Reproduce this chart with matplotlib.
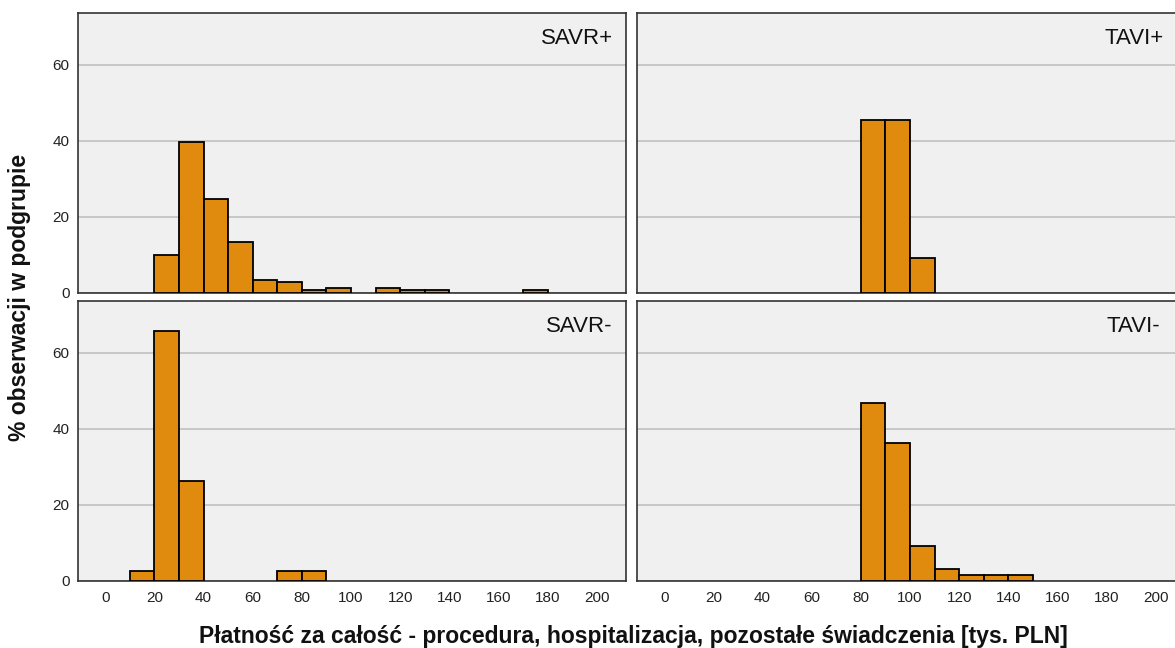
import matplotlib
matplotlib.use("Agg")
import matplotlib.pyplot as plt
import numpy as np

plt.rcParams['font.family'] = ['Liberation Sans', 'DejaVu Sans']

# bins of width 10 (tys. PLN), from 0 to 200
bin_edges = list(range(0, 210, 10))

# % observations per bin for each subgroup (20 bins: 0-10, 10-20, ..., 190-200)
savr_plus = [0, 0, 10.1, 39.7, 24.7, 13.5, 3.5, 2.8, 0.7, 1.4,
             0, 1.4, 0.7, 0.7, 0, 0, 0, 0.7, 0, 0]
tavi_plus = [0, 0, 0, 0, 0, 0, 0, 0, 45.5, 45.5,
             9.1, 0, 0, 0, 0, 0, 0, 0, 0, 0]
savr_minus = [0, 2.6, 65.8, 26.3, 0, 0, 0, 2.6, 2.6, 0,
              0, 0, 0, 0, 0, 0, 0, 0, 0, 0]
tavi_minus = [0, 0, 0, 0, 0, 0, 0, 0, 46.9, 36.4,
              9.2, 3.1, 1.6, 1.6, 1.6, 0, 0, 0, 0, 0]

panel_titles = ["SAVR+", "TAVI+", "SAVR-", "TAVI-"]
panel_data = [savr_plus, tavi_plus, savr_minus, tavi_minus]

x_ticks = list(range(0, 201, 20))
y_ticks = [0, 20, 40, 60]

W, H = 1175, 648
fig = plt.figure(figsize=(W / 100, H / 100), dpi=100)
fig.patch.set_facecolor("white")

def px_axes(x0, y0, x1, y1):
    return fig.add_axes([x0 / W, (H - y1) / H, (x1 - x0) / W, (y1 - y0) / H])

boxes = [(78, 13, 626, 293), (637, 13, 1185, 293),
         (78, 301, 626, 581), (637, 301, 1185, 581)]
label_x = [0.976, 0.962, 0.976, 0.955]

bar_color = "#e08b0e"
for i, (box, title, vals) in enumerate(zip(boxes, panel_titles, panel_data)):
    ax = px_axes(*box)
    ax.set_facecolor("#f0f0f0")
    ax.set_xlim(-11.1, 211.9)
    ax.set_ylim(0, 73.6)
    ax.set_axisbelow(True)
    ax.yaxis.grid(True, color="#c4c4c4", linewidth=1.3)
    ax.xaxis.grid(False)
    lefts = [bin_edges[k] for k, v in enumerate(vals) if v > 0]
    heights = [v for v in vals if v > 0]
    ax.bar(lefts, heights, width=10, align="edge", color=bar_color,
           edgecolor="black", linewidth=1.3, zorder=3)
    for sp in ax.spines.values():
        sp.set_color("#333333")
        sp.set_linewidth(1.2)
    ax.set_yticks(y_ticks)
    ax.set_xticks(x_ticks)
    ax.tick_params(length=0, labelsize=11, colors="#222222", pad=7)
    ax.tick_params(axis="y", pad=6)
    if i % 2 == 1:
        ax.set_yticklabels([])
    if i < 2:
        ax.set_xticklabels([])
    ax.text(label_x[i], 0.91, title, transform=ax.transAxes, ha="right",
            va="center", fontsize=16, color="#111111")

fig.text(633 / W, 1 - 637 / H,
         "Płatność za całość - procedura, hospitalizacja, pozostałe świadczenia [tys. PLN]",
         ha="center", va="center", fontsize=16.5, fontweight="bold", color="#111111")
fig.text(20 / W, 1 - 297 / H, "% obserwacji w podgrupie", rotation=90,
         ha="center", va="center", fontsize=16.5, fontweight="bold", color="#111111")

fig.savefig("out.png", dpi=100)
